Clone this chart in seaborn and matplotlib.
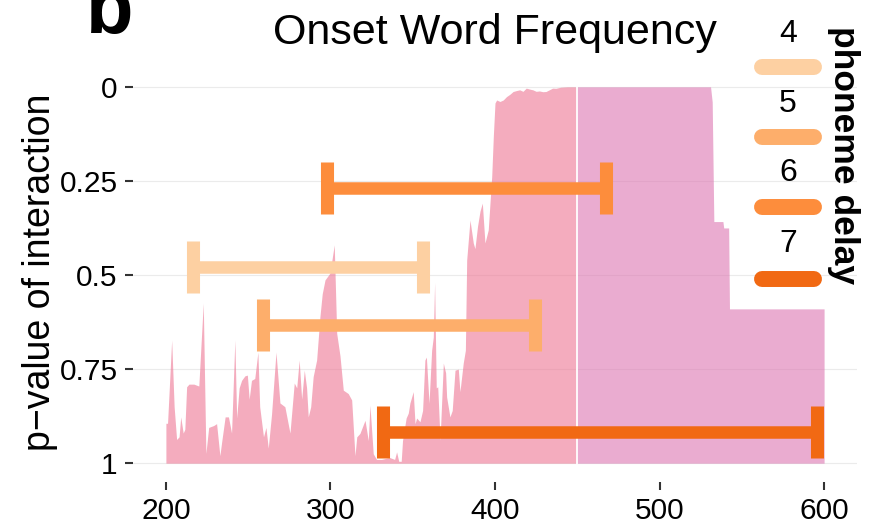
import matplotlib
matplotlib.use("Agg")
import matplotlib.pyplot as plt
from matplotlib.lines import Line2D
import seaborn as sns

# p-value trace of the interaction, before and after the 450 ms boundary
time_early = [
    200, 201, 203.5, 205, 206.5, 208, 209, 210.5, 211.5, 212.6,
    214, 217, 220, 222.7, 224.3, 226, 229, 230.8, 232.8, 234,
    236, 238, 239.9, 241.9, 243, 244.5, 246, 248, 249.5, 250.6,
    252, 254, 255.9, 257, 259.3, 260.8, 262.2, 264.2, 266.9, 269.3,
    272.3, 275.4, 278, 279.5, 281, 282.5, 284.1, 285.5, 286.5, 288,
    289.5, 291.6, 293.6, 295, 296.7, 299.7, 302.3, 303.8, 305.8, 307.8,
    310.8, 312.9, 314.9, 316, 317.9, 321, 323, 324, 326, 328,
    331, 336, 339, 340.2, 341.5, 343, 343.8, 346, 347.3, 348.3,
    350.3, 351.4, 352.4, 354.4, 356, 357.4, 358.3, 359.9, 361.5, 362.5,
    363.3, 364.3, 365.2, 366.6, 368.6, 370, 370.6, 372.6, 374, 375.7,
    377.7, 378.7, 380.7, 382, 382.8, 384.8, 386.8, 387.8, 389.4, 390.9,
    392.3, 393.9, 395.9, 398, 399, 400, 401, 403, 405, 407,
    409, 411, 413, 415, 417, 419, 421, 423, 425, 427,
    429, 431, 433, 435, 437, 440, 444, 450,
]
p_early = [
    0.894, 0.894, 0.673, 0.85, 0.937, 0.93, 0.877, 0.92, 0.91, 0.797,
    0.79, 0.79, 0.795, 0.575, 0.974, 0.905, 0.9, 0.895, 0.98, 0.94,
    0.877, 0.877, 0.92, 0.673, 0.88, 0.8, 0.78, 0.768, 0.766, 0.83,
    0.78, 0.775, 0.705, 0.85, 0.93, 0.905, 0.96, 0.87, 0.705, 0.84,
    0.85, 0.92, 0.787, 0.80, 0.726, 0.83, 0.753, 0.80, 0.877, 0.85,
    0.77, 0.726, 0.611, 0.55, 0.513, 0.495, 0.42, 0.655, 0.715, 0.806,
    0.815, 0.832, 0.98, 0.93, 0.921, 0.886, 0.94, 0.846, 0.975, 0.99,
    0.99, 0.985, 0.99, 0.97, 0.995, 0.995, 0.94, 0.88, 0.867, 0.84,
    0.81, 0.895, 0.88, 0.89, 0.86, 0.726, 0.718, 0.841, 0.70, 0.665,
    0.52, 0.80, 0.797, 0.939, 0.734, 0.76, 0.824, 0.877, 0.86, 0.753,
    0.75, 0.81, 0.734, 0.70, 0.46, 0.354, 0.415, 0.43, 0.37, 0.33,
    0.309, 0.415, 0.38, 0.239, 0.13, 0.043, 0.035, 0.039, 0.035, 0.026,
    0.02, 0.0125, 0.01, 0.008, 0.012, 0.0035, 0.006, 0.008, 0.012, 0.011,
    0.013, 0.0125, 0.008, 0.0035, 0.004, 0.001, 0.0, 0.0,
]
time_late = [450, 531, 532, 533, 538.5, 539, 542, 542.5, 600]
p_late = [0.0, 0.0, 0.04, 0.358, 0.358, 0.375, 0.375, 0.59, 0.59]

# significant windows per phoneme delay
delays = ["4", "5", "6", "7"]
window_start = [216.7, 259.3, 297.6, 332.2]
window_end = [356.0, 424.3, 467.2, 595.4]
window_p = [0.478, 0.634, 0.269, 0.918]
delay_colors = ["#FDD0A2", "#FDAE6B", "#FD8D3C", "#F16913"]

x_ticks = [200, 300, 400, 500, 600]
y_ticks = [0, 0.25, 0.5, 0.75, 1]
y_tick_labels = ["0", "0.25", "0.5", "0.75", "1"]

sns.set_theme(style="white")
plt.rcParams["font.family"] = ["Liberation Sans", "DejaVu Sans"]
plt.rcParams["text.color"] = "black"

W, H = 871, 528
fig = plt.figure(figsize=(W / 100, H / 100), dpi=100)
ax = fig.add_axes([133 / W, 1 - 482 / H, 724 / W, 414 / H])

ax.fill_between(time_early, p_early, 1, color="#ED7593", alpha=0.6, lw=0, zorder=2)
ax.fill_between(time_late, p_late, 1, color="#DC76B1", alpha=0.6, lw=0, zorder=2)
ax.axvline(450, color="white", lw=1.3, zorder=3)

for lo, hi, p, col in zip(window_start, window_end, window_p, delay_colors):
    ax.errorbar(x=(lo + hi) / 2, y=p, xerr=(hi - lo) / 2, fmt="none",
                ecolor=col, elinewidth=9, capsize=19, capthick=9.4, zorder=4)

ax.set_xlim(180, 620)
ax.set_ylim(1.05, -0.05)
ax.set_xticks(x_ticks)
ax.set_xticklabels([str(t) for t in x_ticks])
ax.set_yticks(y_ticks)
ax.set_yticklabels(y_tick_labels)
ax.grid(axis="y", color="#EBEBEB", lw=0.8)
ax.grid(axis="x", visible=False)
ax.set_axisbelow(True)
for s in ax.spines.values():
    s.set_visible(False)
ax.tick_params(axis="both", length=6, width=1.5, color="#333333",
               labelsize=21.5, labelcolor="black", pad=5)
ax.tick_params(axis="y", left=True)
ax.tick_params(axis="x", bottom=True)

fig.text(40 / W, 1 - 272 / H, "p\u2212value of interaction", rotation=90,
         ha="center", va="center", fontsize=27)
fig.text(495 / W, 1 - 33 / H, "Onset Word Frequency", ha="center",
         va="center", fontsize=31)
fig.text(86 / W, 1 - 33 / H, "b", ha="left", va="baseline", fontsize=56,
         fontweight="bold")

# legend: label above each key, vertical bold title on the right
key_y = [67, 137, 207, 279]
label_y = [34, 104, 173, 244]
for lab, ky, ly, col in zip(delays, key_y, label_y, delay_colors):
    fig.lines.append(Line2D([762 / W, 814 / W], [1 - ky / H, 1 - ky / H],
                            transform=fig.transFigure, color=col, lw=11.5,
                            solid_capstyle="round"))
    fig.text(788 / W, 1 - ly / H, lab, ha="center", va="center", fontsize=23)
fig.text(843 / W, 1 - 155 / H, "phoneme delay", rotation=270, ha="center",
         va="center", fontsize=25.5, fontweight="bold")

fig.savefig("out.png", dpi=100)
